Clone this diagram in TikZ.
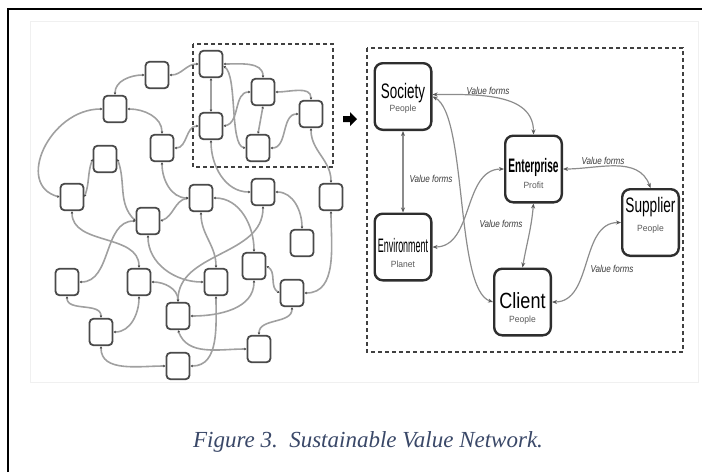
\documentclass[tikz,border=0pt]{standalone}
\usepackage{fontspec}
\usepackage{graphicx}
\setmainfont{Liberation Sans}
\newfontfamily\capfont{Liberation Serif}
\usetikzlibrary{arrows.meta}
\definecolor{edgegray}{HTML}{A0A0A0}
\definecolor{boxgray}{HTML}{4A4A4A}
\definecolor{capblue}{HTML}{3A4868}
\definecolor{rgray}{HTML}{8C8C8C}
\definecolor{subgray}{HTML}{5A5A5A}
\newcommand\sqz[3]{\scalebox{#1}[1]{\fontsize{#2}{#2}\selectfont #3}}
\begin{document}
\begin{tikzpicture}[x=1pt,y=1pt,
  nb/.style={draw=boxgray, line width=1.8pt, rounded corners=4pt, fill=white,
    minimum width=23pt, minimum height=26.5pt, inner sep=0pt},
  ne/.style={draw=edgegray, line width=1.6pt,
    {Latex[length=2.2pt,width=2.8pt,color=boxgray]}-{Latex[length=2.2pt,width=2.8pt,color=boxgray]}},
  rb/.style={draw=black!82, line width=2.4pt, rounded corners=8pt, fill=white,
    minimum width=56.6pt, minimum height=66.6pt, inner sep=0pt},
  re/.style={draw=rgray, line width=1.2pt,
    {Stealth[length=5pt,width=4pt,color=black!65]}-{Stealth[length=5pt,width=4pt,color=black!65]}},
  lbl/.style={inner sep=0pt, anchor=base},
  vf/.style={inner sep=0pt, text=black!78},
  dbox/.style={draw=black!75, line width=1.8pt, dash pattern=on 4pt off 3pt}
]
\useasboundingbox (0,0) rectangle (702,-472);
\draw[black!6, line width=0.6pt] (30,-21) rectangle (698,-382);
\draw[line width=1.3pt] (8,-472) -- (8,-9) -- (702,-9);

% ---------- left network boxes ----------
\node[nb] (A) at (157,-75) {};
\node[nb] (B) at (211,-64) {};
\node[nb] (C) at (115,-109) {};
\node[nb] (D) at (263,-92) {};
\node[nb] (E) at (311,-114) {};
\node[nb] (F) at (211,-126) {};
\node[nb] (G) at (162,-148) {};
\node[nb] (H) at (258,-148) {};
\node[nb] (I) at (105,-159) {};
\node[nb] (J) at (72,-197) {};
\node[nb] (K) at (201,-198) {};
\node[nb] (L) at (263,-192) {};
\node[nb] (M) at (331,-197) {};
\node[nb] (N) at (148,-221) {};
\node[nb] (O) at (302,-243) {};
\node[nb] (P) at (254,-266) {};
\node[nb] (Q) at (67,-282) {};
\node[nb] (R) at (139,-282) {};
\node[nb] (S) at (216,-282) {};
\node[nb] (T) at (292,-293) {};
\node[nb] (U) at (178,-316) {};
\node[nb] (V) at (101,-332) {};
\node[nb] (W) at (259,-349) {};
\node[nb] (X) at (178,-366) {};

% ---------- left network edges ----------
\draw[ne] (A.east) to[out=0,in=180] (B.west);
\draw[ne] (A.west) to[out=180,in=90] (C.north);
\draw[ne] (C.west) .. controls +(-53,0) and +(-45,12) .. (J.west);
\draw[ne] (C.east) to[out=0,in=90] (G.north);
\draw[ne] (G.east) to[out=0,in=180] (F.west);
\draw[ne] (B.south) -- (F.north);
\draw[ne] (B.east) to[out=0,in=90] (D.north);
\draw[ne] ([yshift=-2pt]B.east) .. controls +(14,-10) and +(-16,3) .. (H.west);
\draw[ne] (F.east) to[out=10,in=180] (D.west);
\draw[ne] (D.south) -- (H.north);
\draw[ne] (D.east) to[out=0,in=90] (E.north);
\draw[ne] (E.west) to[out=180,in=0] (H.east);
\draw[ne] (F.south) to[out=-90,in=180] (L.west);
\draw[ne] (E.south) to[out=-90,in=90] (M.north);
\draw[ne] (I.west) to[out=-110,in=70] (J.east);
\draw[ne] (I.east) to[out=-70,in=135] (N.west);
\draw[ne] (G.south) to[out=-90,in=180] (K.west);
\draw[ne] (N.east) to[out=20,in=190] (K.west);
\draw[ne] (K.east) to[out=0,in=90] (P.north);
\draw[ne] (L.east) to[out=0,in=90] (O.north);
\draw[ne] (L.south) to[out=-90,in=90] (U.north);
\draw[ne] (K.south) to[out=-90,in=90] (S.north);
\draw[ne] (N.south) to[out=-90,in=180] (S.west);
\draw[ne] (J.south) to[out=-90,in=90] (R.north);
\draw[ne] (R.east) to[out=0,in=90] (U.north);
\draw[ne] (R.south) to[out=-90,in=0] (V.east);
\draw[ne] (Q.east) to[out=0,in=180] (N.west);
\draw[ne] (Q.south) to[out=-90,in=90] (V.north);
\draw[ne] (V.south) to[out=-90,in=180] (X.west);
\draw[ne] (S.south) to[out=-90,in=0] (X.east);
\draw[ne] (P.east) to[out=-30,in=150] (T.west);
\draw[ne] (P.south) to[out=-90,in=0] (U.east);
\draw[ne] (M.south) to[out=-90,in=0] (T.east);
\draw[ne] (T.south) to[out=-90,in=90] (W.north);
\draw[ne] (U.south) to[out=-70,in=180] (W.west);

% ---------- dashed frames and arrow ----------
\draw[dbox] (193,-44) rectangle (333,-167);
\fill[black] (343,-116) -- (350,-116) -- (350,-112) -- (357,-119)
  -- (350,-126) -- (350,-122) -- (343,-122) -- cycle;
\draw[dbox] (367,-48) rectangle (683,-352);

% ---------- right diagram ----------
\node[rb] (soc) at (403,-96.5) {};
\node[rb] (ent) at (533.5,-169) {};
\node[rb] (sup) at (650.5,-222.5) {};
\node[rb] (env) at (403,-247) {};
\node[rb] (cli) at (522.5,-302) {};

\node[lbl] (soct) at (403,-98.5) {\sqz{0.64}{21}{Society}};
\node[lbl,text=subgray] (socs) at (403,-111.5) {\sqz{0.95}{9}{People}};
\node[lbl] (entt) at (533.5,-172) {\sqz{0.52}{19.5}{\bfseries Enterprise}};
\node[lbl,text=subgray] (ents) at (533.5,-188) {\sqz{0.95}{9}{Profit}};
\node[lbl] (supt) at (650.5,-212) {\sqz{0.65}{21}{Supplier}};
\node[lbl,text=subgray] (sups) at (650.5,-231.5) {\sqz{0.95}{9}{People}};
\node[lbl] (envt) at (403,-252) {\sqz{0.46}{19.5}{Environment}};
\node[lbl,text=subgray] (envs) at (403,-267) {\sqz{0.95}{9}{Planet}};
\node[lbl] (clit) at (522.5,-308.5) {\sqz{0.82}{22}{Client}};
\node[lbl,text=subgray] (clis) at (522.5,-322) {\sqz{0.95}{9}{People}};

\draw[re] ([yshift=2pt]soc.east) to[out=0,in=90] (ent.north);
\draw[re] (soc.south) -- (env.north);
\draw[re] (soc.east) .. controls +(35,-18) and +(-38,12) .. (cli.west);
\draw[re] (env.east) to[out=0,in=180] (ent.west);
\draw[re] (ent.south) to[out=-95,in=80] (cli.north);
\draw[re] (ent.east) to[out=0,in=110] (sup.north);
\draw[re] (sup.west) to[out=180,in=0] (cli.east);

\node[vf] (vf1) at (488,-91) {\sqz{0.81}{10}{\itshape Value forms}};
\node[vf] (vf2) at (431,-179) {\sqz{0.81}{10}{\itshape Value forms}};
\node[vf] (vf3) at (501,-224) {\sqz{0.81}{10}{\itshape Value forms}};
\node[vf] (vf4) at (603,-161) {\sqz{0.81}{10}{\itshape Value forms}};
\node[vf] (vf5) at (612,-269) {\sqz{0.81}{10}{\itshape Value forms}};

% ---------- caption ----------
\node[lbl,text=capblue] (cap) at (368,-447)
  {\capfont\itshape\fontsize{23}{23}\selectfont Figure 3.\ \ Sustainable Value Network.};
\end{tikzpicture}
\end{document}
